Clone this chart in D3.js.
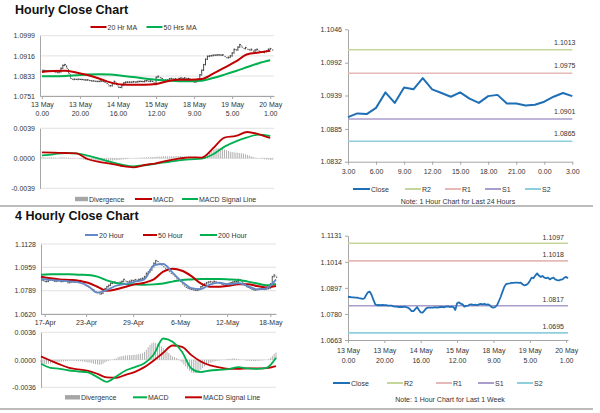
<!DOCTYPE html>
<html>
<head>
<meta charset="utf-8">
<script src="https://cdnjs.cloudflare.com/ajax/libs/d3/7.8.5/d3.min.js"></script>
<style>
  body { margin: 0; background: #fff; }
  svg { font-family: "Liberation Sans", Arial, sans-serif; }
</style>
</head>
<body>
<div id="chart"></div>
<script>
// ---- hourly data, 13 May 0.00 .. 20 May 1.00 ----
var hourClose = [1.0857,1.0856,1.0854,1.0854,1.0853,1.0853,1.0851,1.0850,1.0847,1.0850,
  1.0865,1.0877,1.0880,1.0865,1.0843,1.0823,1.0819,1.0820,1.0819,1.0820,
  1.0819,1.0819,1.0817,1.0817,1.0817,1.0814,1.0813,1.0813,1.0811,1.0811,
  1.0811,1.0813,1.0810,1.0808,1.0802,1.0793,1.0793,1.0802,1.0811,1.0798,
  1.0787,1.0786,1.0795,1.0805,1.0808,1.0808,1.0808,1.0808,1.0810,1.0808,
  1.0810,1.0811,1.0811,1.0810,1.0813,1.0814,1.0811,1.0813,1.0811,1.0798,
  1.0828,1.0832,1.0826,1.0823,1.0813,1.0816,1.0817,1.0822,1.0823,1.0820,
  1.0822,1.0819,1.0823,1.0825,1.0823,1.0825,1.0822,1.0823,1.0819,1.0810,
  1.0808,1.0811,1.0820,1.0838,1.0857,1.0880,1.0902,1.0914,1.0916,1.0917,
  1.0919,1.0919,1.0920,1.0920,1.0919,1.0920,1.0913,1.0908,1.0910,1.0916,
  1.0928,1.0943,1.0940,1.0952,1.0962,1.0952,1.0946,1.0950,1.0943,1.0940,
  1.0943,1.0935,1.0940,1.0943,1.0935,1.0932,1.0930,1.0934,1.0935,1.0943,
  1.0946,1.0940];
// moving averages and MACD, one value every 6 hours
var ma20h = [1.0850,1.0854,1.0855,1.0848,1.0837,1.0823,1.0807,1.0798,1.0797,1.0797,1.0800,
  1.0812,1.0818,1.0818,1.0821,1.0843,1.0868,1.0893,1.0923,1.0930,1.0937];
var ma50h = [1.0832,1.0832,1.0833,1.0836,1.0839,1.0840,1.0839,1.0834,1.0829,1.0823,1.0818,
  1.0815,1.0812,1.0812,1.0814,1.0825,1.0839,1.0854,1.0870,1.0886,1.0898];
var macdH = [0.00078,0.00074,0.00069,0.00065,-0.00009,-0.00048,-0.00069,-0.00100,-0.00117,-0.00087,-0.00065,
  -0.00030,-0.00004,0.00013,0.00009,0.00130,0.00269,0.00290,0.00342,0.00312,0.00264];
var signalH = [0.00039,0.00052,0.00069,0.00065,0.00035,-0.00004,-0.00048,-0.00082,-0.00104,-0.00091,-0.00069,
  -0.00048,-0.00026,-0.00013,-0.00004,0.00052,0.00152,0.00221,0.00273,0.00308,0.00290];
var divH = [0.00013,0.00013,0.00009,0.00009,0.00013,0.00013,0.00009,0.00009,0.00004,0.00009,0.00013,0.00013,0.00009,0.00009,0.00009,0.00004,0.00004,0.00004,0,
  -0.00004,-0.00009,-0.00013,-0.00017,-0.00022,-0.00026,-0.0003,-0.00035,-0.00035,-0.00039,-0.00039,-0.00039,
  -0.00039,-0.00039,-0.00035,-0.00035,-0.00035,-0.0003,-0.0003,-0.00026,-0.00026,-0.00022,-0.00022,-0.00017,-0.00013,-0.00013,-0.00009,
  -0.00004,0,0,0.00004,0.00004,0.00004,0.00009,0.00009,0.00009,
  0.00013,0.00013,0.00017,0.00017,0.00017,0.00022,0.00022,0.00022,0.00022,0.00026,0.00026,0.00026,0.00026,0.00026,0.00026,0.00026,0.0003,0.0003,0.0003,0.00026,0.00026,0.00026,0.00022,0.00022,0.00017,0.00017,0.00013,0.00013,0.00009,
  0.00013,0.00026,0.00043,0.00061,
  0.00078,0.00095,0.00108,0.00121,0.0013,0.0013,0.00126,
  0.00121,0.00113,0.00104,0.00095,0.00087,0.00082,
  0.00078,0.00074,0.00074,0.00069,0.00065,0.00061,0.00052,0.00043,0.00035,0.00026,
  0.00017,0.00009,0.00004,0,
  -0.00004,-0.00009,-0.00013,-0.00017,-0.00017,-0.00022,-0.00022];
var hourLabels = ["13 May|0.00","13 May|20.00","14 May|16.00","15 May|12.00","18 May|9.00","19 May|5.00","20 May|1.00"];
var hourPriceTicks = [1.0751,1.0833,1.0916,1.0999];
var hourMacdTicks = [-0.0039,0,0.0039];

// ---- last 24 hours ----
var dayClose = [1.0904,1.0910,1.0909,1.0919,1.0944,1.0927,1.0952,1.0949,1.0967,1.0949,1.0943,1.0937,
  1.0944,1.0934,1.0927,1.0938,1.0940,1.0926,1.0926,1.0923,1.0924,1.0929,1.0937,1.0943,1.0938];
var dayLabels = ["3.00","6.00","9.00","12.00","15.00","18.00","21.00","0.00","3.00"];
var dayTicks = [1.0832,1.0885,1.0939,1.0992,1.1046];
var levelNames = ["R2","R1","S1","S2"];
var levelsDay = [1.1013,1.0975,1.0901,1.0865];
var levelsWeek = [1.1097,1.1018,1.0817,1.0695];
var weekTicks = [1.0663,1.0780,1.0897,1.1014,1.1131];

// ---- 4 hourly data, 17-Apr .. 18-May ----
var h4Close = [1.0867,1.0862,1.0855,1.0857,1.0867,1.0871,1.0862,1.0857,1.0859,1.0864,
  1.0855,1.0857,1.0862,1.0857,1.0847,1.0850,1.0855,1.0852,1.0862,1.0859,
  1.0857,1.0862,1.0852,1.0838,1.0823,1.0816,1.0811,1.0801,1.0794,1.0782,
  1.0775,1.0765,1.0770,1.0789,1.0804,1.0818,1.0828,1.0842,1.0847,1.0852,
  1.0847,1.0842,1.0850,1.0857,1.0871,1.0857,1.0852,1.0857,1.0864,1.0862,
  1.0869,1.0864,1.0871,1.0874,1.0879,1.0891,1.0915,1.0925,1.0939,1.0963,
  1.0988,1.1007,1.1000,1.0988,1.0975,1.0963,1.0951,1.0939,1.0927,1.0915,
  1.0905,1.0891,1.0876,1.0867,1.0855,1.0838,1.0823,1.0813,1.0806,1.0801,
  1.0799,1.0794,1.0792,1.0794,1.0799,1.0818,1.0830,1.0838,1.0847,1.0852,
  1.0855,1.0850,1.0857,1.0852,1.0847,1.0842,1.0835,1.0830,1.0828,1.0838,
  1.0842,1.0847,1.0852,1.0855,1.0857,1.0871,1.0867,1.0847,1.0830,1.0818,
  1.0813,1.0806,1.0799,1.0794,1.0796,1.0799,1.0801,1.0804,1.0799,1.0801,
  1.0804,1.0808,1.0838,1.0891,1.0903,1.0886];
// one value every 5 bars
var ma20_4h = [1.0874,1.0867,1.0862,1.0857,1.0850,1.0823,1.0775,1.0794,1.0825,1.0838,1.0855,1.0871,1.0973,
  1.0983,1.0920,1.0855,1.0808,1.0801,1.0835,1.0847,1.0835,1.0845,1.0823,1.0799,1.0806,1.0871];
var ma50_4h = [1.0891,1.0879,1.0871,1.0867,1.0862,1.0847,1.0818,1.0789,1.0799,1.0818,1.0835,1.0847,1.0871,
  1.0927,1.0949,1.0934,1.0895,1.0842,1.0818,1.0818,1.0825,1.0835,1.0835,1.0823,1.0813,1.0823];
var ma200_4h = [1.0905,1.0908,1.0908,1.0908,1.0905,1.0903,1.0891,1.0864,1.0845,1.0838,1.0835,1.0833,1.0835,
  1.0842,1.0855,1.0867,1.0871,1.0874,1.0874,1.0874,1.0871,1.0867,1.0855,1.0842,1.0828,1.0838];
var macd4h = [-0.00052,-0.00105,-0.00118,-0.00140,-0.00153,-0.00166,-0.00227,-0.00288,-0.00218,-0.00140,-0.00096,-0.00044,0.00070,
  0.00279,0.00235,0.00105,-0.00113,-0.00161,-0.00140,-0.00131,-0.00122,-0.00096,-0.00113,-0.00118,-0.00105,0.00026];
var signal4h = [0.00044,-0.00009,-0.00061,-0.00105,-0.00126,-0.00144,-0.00183,-0.00231,-0.00235,-0.00196,-0.00157,-0.00096,-0.00009,
  0.00092,0.00187,0.00170,0.00061,-0.00022,-0.00074,-0.00100,-0.00118,-0.00118,-0.00113,-0.00113,-0.00109,-0.00083];
var div4h = [-0.00035,-0.00052,-0.00057,-0.00057,-0.00052,-0.00048,-0.00044,-0.00039,-0.00035,-0.00031,
  -0.00026,-0.00022,-0.00022,-0.00017,-0.00017,-0.00013,-0.00013,-0.00013,-0.00013,-0.00017,-0.00017,-0.00017,-0.00022,
  -0.00026,-0.00031,-0.00035,-0.00039,-0.00044,-0.00052,-0.00057,-0.00061,-0.00065,-0.00061,-0.00052,-0.00035,-0.00022,
  -0.00013,-0.00004,0.00004,0.00013,0.00017,
  0.00035,0.00044,0.00048,0.00052,0.00057,0.00057,0.00061,0.00061,0.00065,0.00065,0.0007,0.00074,0.00078,0.00087,0.00105,0.00131,0.00166,0.00196,
  0.00218,0.00227,0.00218,0.00209,0.00196,0.00174,0.00153,0.00131,0.00109,0.00087,0.00065,0.00044,
  0.00035,0.00022,0.00009,-0.00013,-0.00035,
  -0.00061,-0.00087,-0.00118,-0.00144,-0.00166,-0.00174,-0.00174,-0.00166,-0.00148,-0.00131,-0.00109,
  -0.00087,-0.0007,-0.00052,-0.00039,-0.00031,-0.00022,-0.00017,-0.00013,-0.00009,-0.00004,0,
  0.00004,0.00009,0.00013,0.00013,0.00017,0.00017,0.00013,0.00009,0.00004,0,
  -0.00004,-0.00009,-0.00013,-0.00013,-0.00017,-0.00017,-0.00017,-0.00013,-0.00013,-0.00009,-0.00009,-0.00004,0,
  0.00009,0.00026,0.00052,0.00078,0.00096];
var h4Labels = ["17-Apr","23-Apr","29-Apr","6-May","12-May","18-May"];
var h4LabelIdx = [2,24,49,74,99,122];
var h4PriceTicks = [1.0620,1.0789,1.0959,1.1128];
var h4MacdTicks = [-0.0036,0,0.0036];

// colours
var RED = "#c00000", GREEN = "#00b050", BLUE = "#6489c8", GREY = "#a6a6a6", CLOSE = "#1f6fb6";
var levelColors = ["#c3d69b", "#e6b9b8", "#a99dcc", "#8fcfdd"];

var svg = d3.select("#chart").append("svg")
    .attr("width", 600)
    .attr("height", 413);

var fmt = function(d) { return d.toFixed(4); };

function grid(y, ticks, x0, x1) {
  svg.append("g").selectAll("line")
    .data(ticks).enter().append("line")
    .attr("x1", x0).attr("x2", x1)
    .attr("y1", function(d) { return y(d); })
    .attr("y2", function(d) { return y(d); })
    .attr("stroke", "#d9d9d9")
    .attr("stroke-width", 0.8);
}

function yAxis(y, ticks, x0, size) {
  var g = svg.append("g")
    .attr("transform", "translate(" + x0 + ",0)")
    .call(d3.axisLeft(y).tickValues(ticks).tickFormat(fmt)
      .tickSize(size).tickSizeOuter(0).tickPadding(size ? 3 : 5));
  g.select(".domain").attr("stroke", "#a6a6a6");
  g.selectAll(".tick line").attr("stroke", "#a6a6a6");
  g.selectAll(".tick text").attr("fill", "#333").style("font-size", "7px").style("font-family", "inherit");
}

function xAxis(x, idx, labels, yPos, pad, gap) {
  var g = svg.append("g")
    .attr("transform", "translate(0," + yPos + ")")
    .call(d3.axisBottom(x).tickValues(idx).tickFormat(function(d, i) { return labels[i]; })
      .tickSize(3).tickSizeOuter(0).tickPadding(pad));
  g.select(".domain").attr("stroke", "#a6a6a6");
  g.selectAll(".tick line").attr("stroke", "#a6a6a6");
  g.selectAll(".tick text").attr("fill", "#333").style("font-size", "7px").style("font-family", "inherit")
    .each(function(d, i) {
      var t = d3.select(this), parts = labels[i].split("|");
      t.text(null).attr("dy", 0);
      parts.forEach(function(p, j) {
        t.append("tspan").attr("x", 0).attr("dy", j ? gap : "0.71em").text(p);
      });
    });
}

function plotLine(x, y, values, step, color, width, curve) {
  svg.append("path")
    .datum(values)
    .attr("fill", "none")
    .attr("stroke", color)
    .attr("stroke-width", width)
    .attr("stroke-linejoin", "round")
    .attr("d", d3.line()
      .x(function(d, i) { return x(i * step); })
      .y(function(d) { return y(d); })
      .curve(curve || d3.curveLinear));
}

// price bars: each bar runs from the previous close to this close
function priceBars(x, y, values, color) {
  var g = svg.append("g").attr("stroke", color).attr("stroke-width", 0.9);
  g.selectAll("line.v").data(values.slice(1)).enter().append("line")
    .attr("x1", function(d, i) { return x(i + 1); })
    .attr("x2", function(d, i) { return x(i + 1); })
    .attr("y1", function(d, i) { return y(values[i]) + 0.8; })
    .attr("y2", function(d) { return y(d) - 0.8; });
  g.selectAll("line.h").data(values).enter().append("line")
    .attr("x1", function(d, i) { return x(i); })
    .attr("x2", function(d, i) { return x(i) + 1.2; })
    .attr("y1", function(d) { return y(d); })
    .attr("y2", function(d) { return y(d); });
}

function divBars(x, y, values) {
  svg.append("g").selectAll("rect")
    .data(values).enter().append("rect")
    .attr("x", function(d, i) { return x(i) - 0.4; })
    .attr("width", 0.8)
    .attr("y", function(d) { return Math.min(y(d), y(0)); })
    .attr("height", function(d) { return Math.abs(y(d) - y(0)); })
    .attr("fill", "#a0a0a0");
}

function legend(items, y) {
  items.forEach(function(it) {
    if (it.bar) {
      svg.append("rect").attr("x", it.x).attr("y", y - 2.2).attr("width", it.w).attr("height", 4.4).attr("fill", it.color);
    } else {
      svg.append("line").attr("x1", it.x).attr("x2", it.x + it.w).attr("y1", y).attr("y2", y)
        .attr("stroke", it.color).attr("stroke-width", 2);
    }
    svg.append("text").attr("x", it.x + it.w + 1).attr("y", y + 2.5)
      .style("font-size", "7px").attr("fill", "#333").text(it.label);
  });
}

function title(text, y) {
  svg.append("text").attr("x", 15).attr("y", y)
    .style("font-size", "12.5px").style("font-weight", "bold").attr("fill", "#111").text(text);
}

function levels(x, y, vals, n, xText, off) {
  vals.forEach(function(v, k) {
    svg.append("line").attr("x1", x(0)).attr("x2", x(n))
      .attr("y1", y(v)).attr("y2", y(v))
      .attr("stroke", levelColors[k]).attr("stroke-width", 1.6);
    svg.append("text").attr("x", xText).attr("y", y(v) - off)
      .attr("text-anchor", "end").style("font-size", "7px").attr("fill", "#333").text(fmt(v));
  });
}

// ================= Hourly Close Chart =================
title("Hourly Close Chart", 13.5);
var xH = d3.scaleLinear().domain([-1, 122]).range([40, 274]);
var yH = d3.scaleLinear().domain([1.0751, 1.0999]).range([96, 35.7]);
grid(yH, hourPriceTicks, 40, 274);
yAxis(yH, hourPriceTicks, 40, 0);
xAxis(xH, d3.range(0, 121, 20), hourLabels, 96, 3, "1.3em");
priceBars(xH, yH, hourClose, "#333");
plotLine(xH, yH, ma50h, 6, GREEN, 2, d3.curveMonotoneX);
plotLine(xH, yH, ma20h, 6, RED, 2, d3.curveMonotoneX);
legend([{x: 90.5, w: 16, color: RED, label: "20 Hr MA"},
        {x: 146.5, w: 16, color: GREEN, label: "50 Hrs MA"}], 27);

var yHm = d3.scaleLinear().domain([-0.0039, 0.0039]).range([188.3, 128.3]);
grid(yHm, hourMacdTicks, 40, 274);
yAxis(yHm, hourMacdTicks, 40, 0);
divBars(xH, yHm, divH);
plotLine(xH, yHm, signalH, 6, GREEN, 1.8, d3.curveMonotoneX);
plotLine(xH, yHm, macdH, 6, RED, 1.8, d3.curveMonotoneX);
legend([{x: 75, w: 13, color: GREY, label: "Divergence", bar: true},
        {x: 135, w: 17, color: RED, label: "MACD"},
        {x: 182, w: 16, color: GREEN, label: "MACD Signal Line"}], 199);

// ================= Last 24 hours =================
var x24 = d3.scaleLinear().domain([0, 24]).range([348, 572.3]);
var y24 = d3.scaleLinear().domain([1.0832, 1.1046]).range([161.7, 29.3]);
yAxis(y24, dayTicks, 348, 3);
xAxis(x24, d3.range(0, 25, 3), dayLabels, 161.7, 4, "1.3em");
levels(x24, y24, levelsDay, 24, 575.5, 5);
plotLine(x24, y24, dayClose, 1, CLOSE, 2);
legend([{x: 353, w: 17, color: CLOSE, label: "Close"},
        {x: 405, w: 16, color: levelColors[0], label: levelNames[0]},
        {x: 445, w: 16, color: levelColors[1], label: levelNames[1]},
        {x: 485, w: 16, color: levelColors[2], label: levelNames[2]},
        {x: 525, w: 16, color: levelColors[3], label: levelNames[3]}], 189);
svg.append("text").attr("x", 458).attr("y", 204).attr("text-anchor", "middle")
  .style("font-size", "7px").attr("fill", "#333").text("Note: 1 Hour Chart for Last 24 Hours");

// separators
[206, 409].forEach(function(yy) {
  svg.append("line").attr("x1", 0).attr("x2", 593).attr("y1", yy).attr("y2", yy)
    .attr("stroke", "#a6a6a6").attr("stroke-width", 1.5);
});

// ================= 4 Hourly Close Chart =================
title("4 Hourly Close Chart", 219.5);
var x4 = d3.scaleLinear().domain([0, 125]).range([41, 276]);
var y4 = d3.scaleLinear().domain([1.0620, 1.1128]).range([314, 244]);
grid(y4, h4PriceTicks, 41, 276);
yAxis(y4, h4PriceTicks, 41, 0);
xAxis(x4, h4LabelIdx, h4Labels, 314, 3.5, "1.3em");
priceBars(x4, y4, h4Close, "#444");
plotLine(x4, y4, ma200_4h, 5, GREEN, 2, d3.curveMonotoneX);
plotLine(x4, y4, ma50_4h, 5, RED, 2, d3.curveMonotoneX);
plotLine(x4, y4, ma20_4h, 5, BLUE, 1.8, d3.curveMonotoneX);
legend([{x: 85, w: 13, color: BLUE, label: "20 Hour"},
        {x: 143, w: 14, color: RED, label: "50 Hour"},
        {x: 200, w: 17, color: GREEN, label: "200 Hour"}], 235);

var y4m = d3.scaleLinear().domain([-0.0036, 0.0036]).range([387.3, 332.3]);
grid(y4m, h4MacdTicks, 41, 276);
yAxis(y4m, h4MacdTicks, 41, 0);
divBars(x4, y4m, div4h);
plotLine(x4, y4m, signal4h, 5, RED, 1.8, d3.curveMonotoneX);
plotLine(x4, y4m, macd4h, 5, GREEN, 1.8, d3.curveMonotoneX);
legend([{x: 65, w: 15, color: GREY, label: "Divergence", bar: true},
        {x: 133, w: 14, color: GREEN, label: "MACD"},
        {x: 185, w: 17, color: RED, label: "MACD Signal Line"}], 397.3);

// ================= Last 1 week =================
var xW = d3.scaleLinear().domain([0, 121]).range([348, 568]);
var yW = d3.scaleLinear().domain([1.0663, 1.1131]).range([340, 235.7]);
yAxis(yW, weekTicks, 348, 3);
xAxis(xW, d3.range(0, 121, 20), hourLabels, 340, 5, "1.45em");
levels(xW, yW, levelsWeek, 121, 564, 3.5);
plotLine(xW, yW, hourClose, 1, CLOSE, 1.8);
legend([{x: 333, w: 17, color: CLOSE, label: "Close"},
        {x: 387, w: 16, color: levelColors[0], label: levelNames[0]},
        {x: 436, w: 16, color: levelColors[1], label: levelNames[1]},
        {x: 478, w: 16, color: levelColors[2], label: levelNames[2]},
        {x: 517, w: 16, color: levelColors[3], label: levelNames[3]}], 383);
svg.append("text").attr("x", 450).attr("y", 401.5).attr("text-anchor", "middle")
  .style("font-size", "7px").attr("fill", "#333").text("Note: 1 Hour Chart for Last 1 Week");
</script>
</body>
</html>
